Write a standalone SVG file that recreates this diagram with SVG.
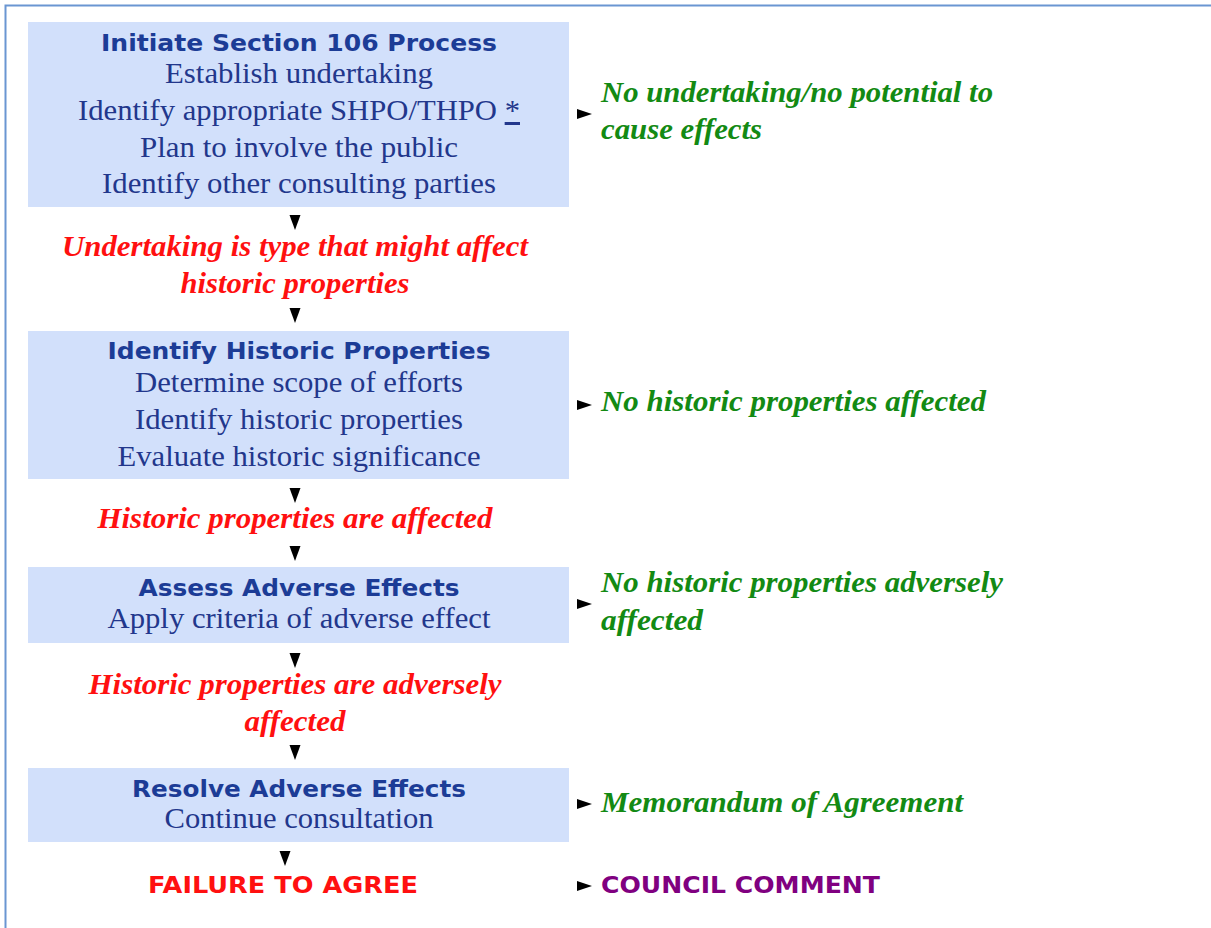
<svg xmlns="http://www.w3.org/2000/svg" width="1211" height="928" viewBox="0 0 1211 928">
  <style>
    .box { fill: #d2e0fb; }
    .head { font-family: "DejaVu Sans", Verdana, sans-serif; font-weight: bold; font-size: 22.5px; fill: #1c3c96; text-anchor: middle; }
    .line { font-family: "Liberation Serif", "Times New Roman", serif; font-size: 30px; fill: #22378c; text-anchor: middle; }
    .yes { font-family: "Liberation Serif", "Times New Roman", serif; font-style: italic; font-weight: bold; font-size: 30px; fill: #ff1010; text-anchor: middle; }
    .no { font-family: "Liberation Serif", "Times New Roman", serif; font-style: italic; font-weight: bold; font-size: 30px; fill: #138a13; }
    .caps { font-family: "DejaVu Sans", Verdana, sans-serif; font-weight: bold; font-size: 23px; }
    .tri { fill: #000; }
  </style>
  <defs>
    <path id="down" d="M-5.5,0 L5.5,0 L0,15 Z"/>
    <path id="right" d="M0,-5 L15,0 L0,5 Z"/>
  </defs>

  <rect width="1211" height="928" fill="#ffffff"/>
  <!-- frame: top and left edges only -->
  <path d="M5.5,928 L5.5,5.5 L1211,5.5" fill="none" stroke="#6a96d2" stroke-width="2"/>

  <g id="initiate">
    <rect class="box" x="28" y="22" width="541" height="185"/>
    <text class="head" x="299" y="51" textLength="396" lengthAdjust="spacingAndGlyphs">Initiate Section 106 Process</text>
    <text class="line" x="299" y="83" textLength="268" lengthAdjust="spacingAndGlyphs">Establish undertaking</text>
    <text class="line" x="299" y="120" textLength="442" lengthAdjust="spacingAndGlyphs">Identify appropriate SHPO/THPO <tspan text-decoration="underline">*</tspan></text>
    <text class="line" x="299" y="157" textLength="318" lengthAdjust="spacingAndGlyphs">Plan to involve the public</text>
    <text class="line" x="299" y="193" textLength="394" lengthAdjust="spacingAndGlyphs">Identify other consulting parties</text>
  </g>

  <g id="no-undertaking">
    <text class="no" x="601" y="102" textLength="392" lengthAdjust="spacingAndGlyphs">No undertaking/no potential to</text>
    <text class="no" x="601" y="139" textLength="161" lengthAdjust="spacingAndGlyphs">cause effects</text>
  </g>

  <g id="might-affect">
    <text class="yes" x="295" y="256" textLength="466" lengthAdjust="spacingAndGlyphs">Undertaking is type that might affect</text>
    <text class="yes" x="295" y="293" textLength="229" lengthAdjust="spacingAndGlyphs">historic properties</text>
  </g>

  <g id="identify">
    <rect class="box" x="28" y="331" width="541" height="148"/>
    <text class="head" x="299" y="359" textLength="383" lengthAdjust="spacingAndGlyphs">Identify Historic Properties</text>
    <text class="line" x="299" y="392" textLength="328" lengthAdjust="spacingAndGlyphs">Determine scope of efforts</text>
    <text class="line" x="299" y="429" textLength="328" lengthAdjust="spacingAndGlyphs">Identify historic properties</text>
    <text class="line" x="299" y="466" textLength="363" lengthAdjust="spacingAndGlyphs">Evaluate historic significance</text>
  </g>

  <g id="no-historic">
    <text class="no" x="601" y="411" textLength="385" lengthAdjust="spacingAndGlyphs">No historic properties affected</text>
  </g>

  <g id="affected">
    <text class="yes" x="295" y="528" textLength="395" lengthAdjust="spacingAndGlyphs">Historic properties are affected</text>
  </g>

  <g id="assess">
    <rect class="box" x="28" y="567" width="541" height="76"/>
    <text class="head" x="299" y="596" textLength="321" lengthAdjust="spacingAndGlyphs">Assess Adverse Effects</text>
    <text class="line" x="299" y="628" textLength="383" lengthAdjust="spacingAndGlyphs">Apply criteria of adverse effect</text>
  </g>

  <g id="no-adverse">
    <text class="no" x="601" y="592" textLength="402" lengthAdjust="spacingAndGlyphs">No historic properties adversely</text>
    <text class="no" x="601" y="630" textLength="102" lengthAdjust="spacingAndGlyphs">affected</text>
  </g>

  <g id="adversely-affected">
    <text class="yes" x="295" y="694" textLength="413" lengthAdjust="spacingAndGlyphs">Historic properties are adversely</text>
    <text class="yes" x="295" y="731" textLength="101" lengthAdjust="spacingAndGlyphs">affected</text>
  </g>

  <g id="resolve">
    <rect class="box" x="28" y="768" width="541" height="74"/>
    <text class="head" x="299" y="797" textLength="334" lengthAdjust="spacingAndGlyphs">Resolve Adverse Effects</text>
    <text class="line" x="299" y="828" textLength="269" lengthAdjust="spacingAndGlyphs">Continue consultation</text>
  </g>

  <g id="moa">
    <text class="no" x="601" y="812" textLength="362" lengthAdjust="spacingAndGlyphs">Memorandum of Agreement</text>
  </g>

  <g id="failure">
    <text class="caps" x="148" y="893" fill="#ff1010" textLength="270" lengthAdjust="spacingAndGlyphs">FAILURE TO AGREE</text>
  </g>

  <g id="council">
    <text class="caps" x="601" y="893" fill="#800080" textLength="279" lengthAdjust="spacingAndGlyphs">COUNCIL COMMENT</text>
  </g>

  <g id="connectors">
    <use href="#down" class="tri" x="295" y="215"/>
    <use href="#down" class="tri" x="295" y="308"/>
    <use href="#down" class="tri" x="295" y="488"/>
    <use href="#down" class="tri" x="295" y="546"/>
    <use href="#down" class="tri" x="295" y="653"/>
    <use href="#down" class="tri" x="295" y="745"/>
    <use href="#down" class="tri" x="285" y="851"/>
    <use href="#right" class="tri" x="577" y="114"/>
    <use href="#right" class="tri" x="577" y="405"/>
    <use href="#right" class="tri" x="577" y="604"/>
    <use href="#right" class="tri" x="577" y="804"/>
    <use href="#right" class="tri" x="577" y="886"/>
  </g>
</svg>
